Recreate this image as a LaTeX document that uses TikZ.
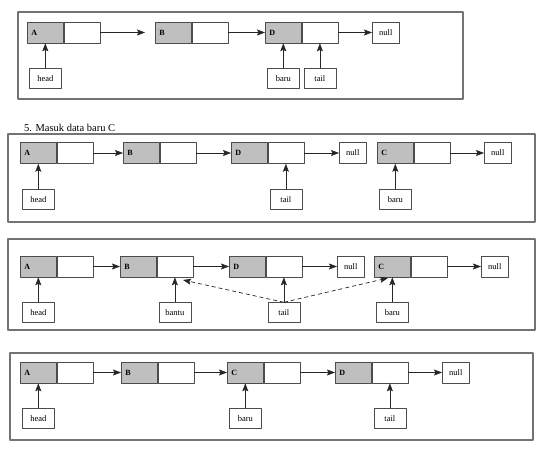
\documentclass[tikz,border=0pt]{standalone}
\usepackage{fontspec}
\setmainfont{Liberation Serif}
\usetikzlibrary{arrows.meta,positioning}
\begin{document}
\begin{tikzpicture}[x=1pt,y=1pt,>={Stealth[length=8pt,width=6pt,inset=1.5pt]},line join=round,
	isi/.style={draw=black!70,line width=0.6pt,fill=black!25,minimum width=36pt,minimum height=21pt,inner sep=0pt,text width=28pt,align=left,font=\fontsize{8}{9}\selectfont\bfseries},
	ptr/.style={draw=black!70,line width=0.6pt,fill=white,minimum width=36pt,minimum height=21pt,inner sep=0pt},
	kotak/.style={draw=black!70,line width=0.6pt,fill=white,minimum width=32pt,minimum height=20pt,inner sep=0pt,font=\fontsize{8.5}{10}\selectfont},
	nullbox/.style={kotak,minimum width=27pt,minimum height=21pt},
	bingkai/.style={draw=black!55,line width=1.1pt},
	panah/.style={->,draw=black!85,line width=0.6pt},
	putus/.style={panah,dash pattern=on 4pt off 3pt,line width=0.7pt}]
	\useasboundingbox (0,0) rectangle (549,455);
	%%%%Simpul list
	\tikzset{elemen/.pic={
			\node[isi,anchor=west] (-d) at (0,0) {#1};
			\node[ptr,anchor=west] (-p) at (-d.east) {};
	}}
	%%%%%%%%%Langkah 4
	\draw[bingkai] (18,443) rectangle (463,356);
	\pic (A1) at (27,422.5) {elemen=A};
	\pic (B1) at (155,422.5) {elemen=B};
	\pic (D1) at (265,422.5) {elemen=D};
	\node[nullbox,anchor=west] (null1) at (372,422.5) {null};
	\node[kotak,below=25pt of A1-d] (head1) {head};
	\node[kotak,below=25pt of D1-d] (baru1) {baru};
	\node[kotak,below=25pt of D1-p] (tail1) {tail};
	\draw[panah,shorten >=10pt] (A1-p) -- (B1-d);
	\draw[panah] (B1-p) -- (D1-d);
	\draw[panah] (D1-p) -- (null1);
	\draw[panah] (head1) -- (A1-d);
	\draw[panah] (baru1) -- (D1-d);
	\draw[panah] (tail1) -- (D1-p);
	%%%%%%%%%Langkah 5
	\node[anchor=west,inner sep=0pt,font=\fontsize{10.5}{12}\selectfont] (judul) at (24,327) {5. Masuk data baru C};
	\draw[bingkai] (8,321) rectangle (535,233);
	\pic (A2) at (20,302) {elemen=A};
	\pic (B2) at (123,302) {elemen=B};
	\pic (D2) at (231,302) {elemen=D};
	\node[nullbox,anchor=west] (null2) at (339,302) {null};
	\pic (C2) at (377,302) {elemen=C};
	\node[nullbox,anchor=west] (nullc2) at (484,302) {null};
	\node[kotak,below=25pt of A2-d] (head2) {head};
	\node[kotak,below=25pt of D2-p] (tail2) {tail};
	\node[kotak,below=25pt of C2-d] (baru2) {baru};
	\draw[panah] (A2-p) -- (B2-d);
	\draw[panah] (B2-p) -- (D2-d);
	\draw[panah] (D2-p) -- (null2);
	\draw[panah] (C2-p) -- (nullc2);
	\draw[panah] (head2) -- (A2-d);
	\draw[panah] (tail2) -- (D2-p);
	\draw[panah] (baru2) -- (C2-d);
	%%%%%%%%%Cari posisi
	\draw[bingkai] (8,216) rectangle (535,125);
	\pic (A3) at (20,188.5) {elemen=A};
	\pic (B3) at (120,188.5) {elemen=B};
	\pic (D3) at (229,188.5) {elemen=D};
	\node[nullbox,anchor=west] (null3) at (337,188.5) {null};
	\pic (C3) at (374,188.5) {elemen=C};
	\node[nullbox,anchor=west] (nullc3) at (481,188.5) {null};
	\node[kotak,below=25pt of A3-d] (head3) {head};
	\node[kotak,below=25pt of B3-p] (bantu3) {bantu};
	\node[kotak,below=25pt of D3-p] (tail3) {tail};
	\node[kotak,below=25pt of C3-d] (baru3) {baru};
	\coordinate (ujungB) at (183,175);
	\coordinate (ujungC) at (388,177);
	\draw[panah] (A3-p) -- (B3-d);
	\draw[panah] (B3-p) -- (D3-d);
	\draw[panah] (D3-p) -- (null3);
	\draw[panah] (C3-p) -- (nullc3);
	\draw[panah] (head3) -- (A3-d);
	\draw[panah] (bantu3) -- (B3-p);
	\draw[panah] (tail3) -- (D3-p);
	\draw[panah] (baru3) -- (C3-d);
	\draw[putus] (tail3.north) -- (ujungB);
	\draw[putus] (tail3.north) -- (ujungC);
	%%%%%%%%%Hasil
	\draw[bingkai] (10,102) rectangle (533,15);
	\pic (A4) at (20,82.5) {elemen=A};
	\pic (B4) at (121,82.5) {elemen=B};
	\pic (C4) at (227,82.5) {elemen=C};
	\pic (D4) at (335,82.5) {elemen=D};
	\node[nullbox,anchor=west] (null4) at (442,82.5) {null};
	\node[kotak,below=25pt of A4-d] (head4) {head};
	\node[kotak,below=25pt of C4-d] (baru4) {baru};
	\node[kotak,below=25pt of D4-p] (tail4) {tail};
	\draw[panah] (A4-p) -- (B4-d);
	\draw[panah] (B4-p) -- (C4-d);
	\draw[panah] (C4-p) -- (D4-d);
	\draw[panah] (D4-p) -- (null4);
	\draw[panah] (head4) -- (A4-d);
	\draw[panah] (baru4) -- (C4-d);
	\draw[panah] (tail4) -- (D4-p);
\end{tikzpicture}
\end{document}
